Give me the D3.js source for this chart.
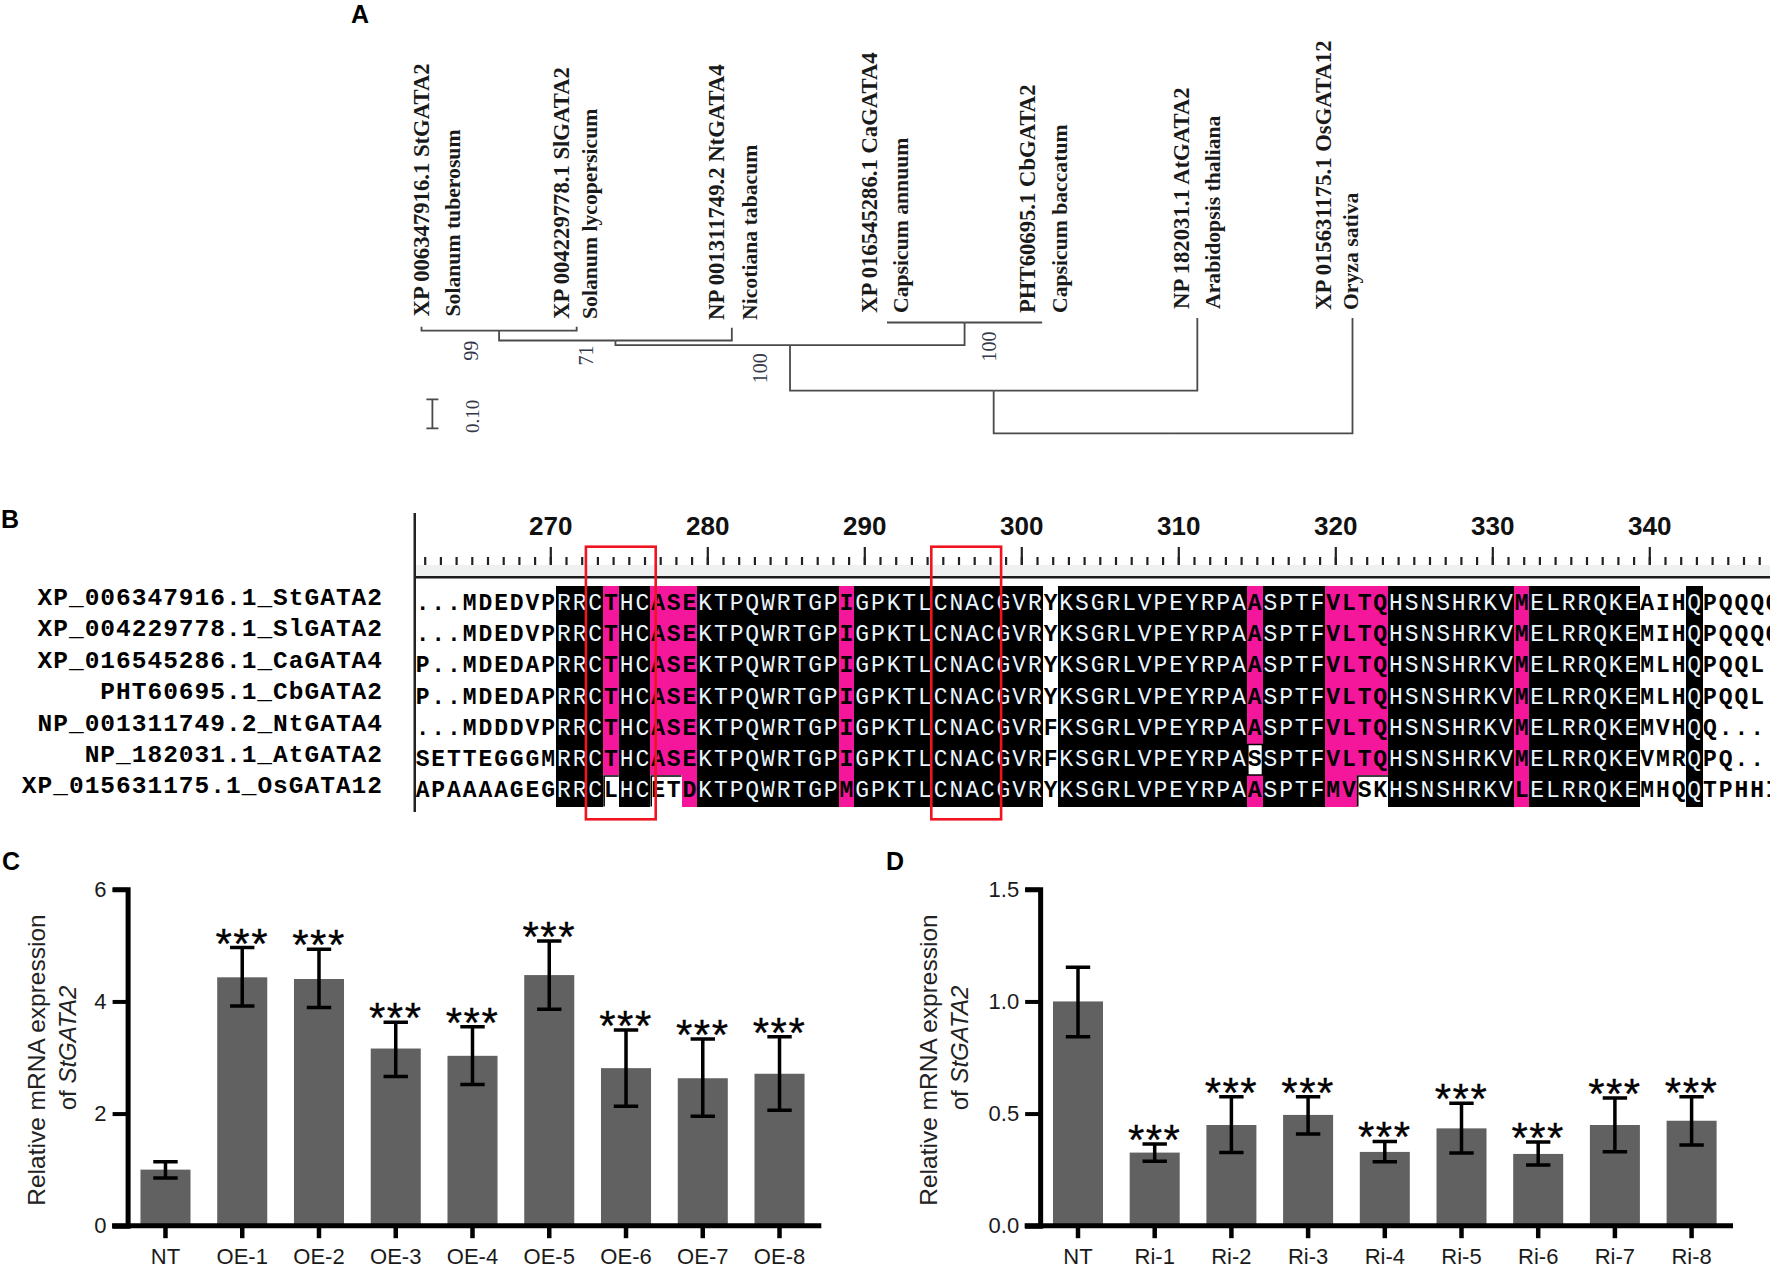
<!DOCTYPE html>
<html lang="en">
<head>
    <meta charset="UTF-8">
    <title>StGATA2</title>
    <style>
        body { margin: 0; background: #fff; }
        svg { display: block; }
    </style>
</head>

<body>
    <div id="graph"></div>
    <script src="https://d3js.org/d3.v7.min.js"></script>

    <script>
        // Panel A: tree
        const treeIds = ["root", "n1", "n2", "n3", "n4", "n5",
            "St", "Sl", "Nt", "Ca", "Cb", "At", "Os"];
        const treeParents = [null, "root", "n1", "n2", "n3", "n2",
            "n4", "n4", "n3", "n5", "n5", "n1", "root"];
        const treeLengths = [0, 0.147, 0.157, 0.016, 0.034, 0.078,
            0.013, 0.013, 0.044, 0, 0, 0.251, 0.398];
        const leafNames = ["XP 006347916.1 StGATA2", "XP 004229778.1 SlGATA2", "NP 001311749.2 NtGATA4",
            "XP 016545286.1 CaGATA4", "PHT60695.1 CbGATA2", "NP 182031.1 AtGATA2", "XP 015631175.1 OsGATA12"];
        const leafSpecies = ["Solanum tuberosum", "Solanum lycopersicum", "Nicotiana tabacum",
            "Capsicum annuum", "Capsicum baccatum", "Arabidopsis thaliana", "Oryza sativa"];
        const bootstrapNodes = ["n4", "n3", "n2", "n5"];
        const bootstrapValues = ["99", "71", "100", "100"];
        const scaleBarValue = 0.10;

        // Panel B: alignment
        const seqNames = ["XP_006347916.1_StGATA2", "XP_004229778.1_SlGATA2", "XP_016545286.1_CaGATA4",
            "PHT60695.1_CbGATA2", "NP_001311749.2_NtGATA4", "NP_182031.1_AtGATA2", "XP_015631175.1_OsGATA12"];
        const seqs = [
            "...MDEDVPRRCTHCASEKTPQWRTGPIGPKTLCNACGVRYKSGRLVPEYRPAASPTFVLTQHSNSHRKVMELRRQKEAIHQPQQQQ",
            "...MDEDVPRRCTHCASEKTPQWRTGPIGPKTLCNACGVRYKSGRLVPEYRPAASPTFVLTQHSNSHRKVMELRRQKEMIHQPQQQQ",
            "P..MDEDAPRRCTHCASEKTPQWRTGPIGPKTLCNACGVRYKSGRLVPEYRPAASPTFVLTQHSNSHRKVMELRRQKEMLHQPQQL",
            "P..MDEDAPRRCTHCASEKTPQWRTGPIGPKTLCNACGVRYKSGRLVPEYRPAASPTFVLTQHSNSHRKVMELRRQKEMLHQPQQL",
            "...MDDDVPRRCTHCASEKTPQWRTGPIGPKTLCNACGVRFKSGRLVPEYRPAASPTFVLTQHSNSHRKVMELRRQKEMVHQQ...",
            "SETTEGGGMRRCTHCASEKTPQWRTGPIGPKTLCNACGVRFKSGRLVPEYRPASSPTFVLTQHSNSHRKVMELRRQKEVMRQPQ..",
            "APAAAAGEGRRCLHCETDKTPQWRTGPMGPKTLCNACGVRYKSGRLVPEYRPAASPTFMVSKHSNSHRKVLELRRQKEMHQQTPHHI"
        ];
        const firstCol = 262;
        const lastTick = 347;
        const rulerLabels = [270, 280, 290, 300, 310, 320, 330, 340];
        const blackCols = [[271, 301], [303, 339], [343, 343]];
        const pinkCols = [274, 277, 278, 279, 289, 315, 320, 321, 322, 323, 332];
        const whiteRuns = [[5, 315, 315], [6, 274, 274], [6, 277, 278], [6, 322, 323]]; // fila, desde, hasta
        const redBoxes = [[273, 276], [295, 298]];

        // Panel C
        const cCategories = ["NT", "OE-1", "OE-2", "OE-3", "OE-4", "OE-5", "OE-6", "OE-7", "OE-8"];
        const cValues = [1.0, 4.43, 4.40, 3.16, 3.03, 4.47, 2.81, 2.63, 2.71];
        const cErrHigh = [1.14, 4.96, 4.93, 3.63, 3.55, 5.08, 3.49, 3.33, 3.37];
        const cErrLow = [0.85, 3.92, 3.89, 2.66, 2.52, 3.86, 2.13, 1.95, 2.06];
        const cStars = ["", "***", "***", "***", "***", "***", "***", "***", "***"];
        const cTicks = [0, 2, 4, 6];

        // Panel D
        const dCategories = ["NT", "Ri-1", "Ri-2", "Ri-3", "Ri-4", "Ri-5", "Ri-6", "Ri-7", "Ri-8"];
        const dValues = [1.0, 0.326, 0.449, 0.494, 0.329, 0.434, 0.32, 0.449, 0.468];
        const dErrHigh = [1.152, 0.364, 0.575, 0.575, 0.376, 0.546, 0.373, 0.569, 0.575];
        const dErrLow = [0.843, 0.287, 0.326, 0.409, 0.285, 0.324, 0.271, 0.33, 0.36];
        const dStars = ["", "***", "***", "***", "***", "***", "***", "***", "***"];
        const dTicks = [0, 0.5, 1, 1.5];

        const SANS = "'Liberation Sans', Arial, sans-serif";
        const SERIF = "'Liberation Serif', serif";
        const MONO = "'Liberation Mono', monospace";
        const BAR = "#616161";
        const PINK = "#f5179b";

        const svg = d3.select("#graph")
            .append("svg")
            .attr("width", 1770)
            .attr("height", 1268)
            .attr("viewBox", "0 0 1770 1268");

        svg.append("rect").attr("width", 1770).attr("height", 1268).attr("fill", "#fff");

        // letras de los paneles
        const panelLetters = [["A", 351, 23], ["B", 1, 528], ["C", 2, 870], ["D", 886, 870]];
        svg.selectAll("text.panel")
            .data(panelLetters)
            .enter()
            .append("text")
            .attr("class", "panel")
            .attr("x", d => d[1])
            .attr("y", d => d[2])
            .attr("font-family", SANS)
            .attr("font-weight", "bold")
            .attr("font-size", 25)
            .text(d => d[0]);

        // ---- A: arbol ----
        const treeTable = treeIds.map((id, i) => ({ id, parent: treeParents[i], len: treeLengths[i] }));
        const root = d3.stratify().id(d => d.id).parentId(d => d.parent)(treeTable);
        d3.cluster().nodeSize([1, 1]).separation(() => 1)(root);
        root.eachBefore(n => { n.depthLen = n.parent ? n.parent.depthLen + n.data.len : 0; });

        const treeX = d3.scaleLinear().domain(d3.extent(root.leaves(), n => n.x)).range([421.5, 1352.5]);
        const treeY = d3.scaleLinear().domain([0, 1]).range([433.3, 143.3]);

        const treeG = svg.append("g");
        treeG.selectAll("path")
            .data(root.links())
            .enter()
            .append("path")
            .attr("fill", "none")
            .attr("stroke", "#4a4a4a")
            .attr("stroke-width", 1.8)
            .attr("d", l => {
                const px = treeX(l.source.x), py = treeY(l.source.depthLen);
                const cx = treeX(l.target.x), cy = treeY(l.target.depthLen);
                return `M${px},${py}H${cx}V${cy}`;
            });

        // las etiquetas no van alineadas con las hojas en el original
        const idBaseX = [429, 569, 724, 877, 1035, 1189, 1331];
        const spBaseX = [460, 597, 757, 908, 1067, 1220, 1358];
        const idStartY = [316.5, 319, 320, 313, 313, 309, 310];

        function vText(g, x, y, str, size, weight, fill) {
            return g.append("text")
                .attr("transform", `translate(${x},${y}) rotate(-90)`)
                .attr("font-family", SERIF)
                .attr("font-size", size)
                .attr("font-weight", weight)
                .attr("fill", fill)
                .text(str);
        }

        leafNames.forEach((name, i) => {
            vText(treeG, idBaseX[i], idStartY[i], name, 22.7, "bold", "#1a1a1a");
            vText(treeG, spBaseX[i], idStartY[i], leafSpecies[i], 21.7, "bold", "#1a1a1a");
        });

        const bootDx = { n4: -21.5, n3: -22, n2: -23, n5: 31.5 };
        const bootDy = { n4: 30, n3: 25, n2: 38, n5: 39 };
        bootstrapNodes.forEach((id, i) => {
            const n = root.find(d => d.id === id);
            vText(treeG, treeX(n.x) + bootDx[id], treeY(n.depthLen) + bootDy[id], bootstrapValues[i], 20, "normal", "#33384a");
        });

        // barra de escala
        const scaleX = 432.4, scaleBottom = 428.3;
        const scaleTop = scaleBottom - (treeY(0) - treeY(scaleBarValue));
        treeG.append("path")
            .attr("fill", "none")
            .attr("stroke", "#4a4a4a")
            .attr("stroke-width", 1.8)
            .attr("d", `M${scaleX - 6},${scaleTop}H${scaleX + 6}M${scaleX},${scaleTop}V${scaleBottom}M${scaleX - 6},${scaleBottom}H${scaleX + 6}`);
        vText(treeG, 479, 433, scaleBarValue.toFixed(2), 19, "normal", "#33384a");

        // ---- B: alineamiento ----
        const cellW = 15.7;
        const cellX = d3.scaleLinear().domain([firstCol, firstCol + 1]).range([414.7, 414.7 + cellW]);
        const rowY = d3.scaleBand().domain(d3.range(seqs.length)).range([586, 806.5]);
        const rulerX = d3.scaleLinear().domain([270, 340]).range([550.3, 1649.3]);
        const alignG = svg.append("g");

        function isWhite(row, col) {
            return whiteRuns.some(r => r[0] === row && col >= r[1] && col <= r[2]);
        }
        function cellFill(row, col) {
            if (isWhite(row, col)) return "#fff";
            if (pinkCols.includes(col)) return PINK;
            if (blackCols.some(r => col >= r[0] && col <= r[1])) return "#000";
            return null;
        }

        // regla
        alignG.append("rect")
            .attr("x", 414).attr("y", 565).attr("width", 1356).attr("height", 11)
            .attr("fill", "#eef1ef");
        alignG.append("rect")
            .attr("x", 414).attr("y", 576).attr("width", 1356).attr("height", 2.5)
            .attr("fill", "#1c1c1c");
        alignG.append("rect")
            .attr("x", 413.5).attr("y", 513).attr("width", 2.5).attr("height", 299)
            .attr("fill", "#222");

        const shortAxis = d3.axisTop(rulerX)
            .tickValues(d3.range(firstCol, lastTick + 1))
            .tickSize(8)
            .tickFormat("");
        const longAxis = d3.axisTop(rulerX)
            .tickValues(rulerLabels)
            .tickSize(18)
            .tickPadding(12)
            .tickFormat(d3.format("d"));
        [shortAxis, longAxis].forEach(ax => {
            const g = alignG.append("g").attr("transform", "translate(0,565)").call(ax);
            g.select(".domain").remove();
            g.selectAll("line").attr("stroke", "#222").attr("stroke-width", 2.2);
            g.selectAll("text")
                .attr("font-family", SANS)
                .attr("font-weight", "bold")
                .attr("font-size", 26)
                .attr("fill", "#111");
        });

        // celdas
        const cells = [];
        seqs.forEach((s, row) => {
            s.split("").forEach((ch, k) => {
                cells.push({ row, col: firstCol + k, ch, fill: cellFill(row, firstCol + k) });
            });
        });
        alignG.append("g")
            .selectAll("rect")
            .data(cells.filter(d => d.fill))
            .enter()
            .append("rect")
            .attr("shape-rendering", "crispEdges")
            .attr("x", d => cellX(d.col))
            .attr("y", d => rowY(d.row))
            .attr("width", cellW + 0.4)
            .attr("height", rowY.bandwidth() + 0.4)
            .attr("fill", d => d.fill);

        // borde de las celdas blancas: caja completa solo en la S, en el resto arriba e izquierda
        alignG.append("g")
            .selectAll("path")
            .data(whiteRuns)
            .enter()
            .append("path")
            .attr("fill", "none")
            .attr("stroke", "#000")
            .attr("stroke-width", 1.6)
            .attr("d", d => {
                const x = cellX(d[1]) + 1, y = rowY(d[0]) + 1;
                const w = (d[2] - d[1] + 1) * cellW - 1, h = rowY.bandwidth() - 1;
                return d[0] === 5
                    ? `M${x},${y}h${w}v${h}h${-w}Z`
                    : `M${x},${y + h}V${y}h${w}`;
            });

        alignG.append("g")
            .selectAll("text")
            .data(cells)
            .enter()
            .append("text")
            .attr("x", d => cellX(d.col) + cellW / 2)
            .attr("y", d => 610 + d.row * 31.2)
            .attr("text-anchor", "middle")
            .attr("font-family", MONO)
            .attr("font-size", 23)
            .attr("font-weight", d => d.fill === "#000" ? "normal" : "bold")
            .attr("fill", d => d.fill === "#000" ? "#eaf6ff" : "#000")
            .text(d => d.ch);

        alignG.append("g")
            .selectAll("text")
            .data(seqNames)
            .enter()
            .append("text")
            .attr("x", 383)
            .attr("y", (d, i) => 605 + i * 31.4)
            .attr("text-anchor", "end")
            .attr("font-family", MONO)
            .attr("font-size", 24.5)
            .attr("font-weight", "bold")
            .attr("letter-spacing", 1)
            .text(d => d);

        alignG.append("g")
            .selectAll("rect")
            .data(redBoxes)
            .enter()
            .append("rect")
            .attr("x", d => cellX(d[0]) - 1.5)
            .attr("y", 546.7)
            .attr("width", d => cellX(d[1] + 1) - cellX(d[0]) + 7)
            .attr("height", 272.6)
            .attr("fill", "none")
            .attr("stroke", "#f0141e")
            .attr("stroke-width", 2.6);

        // ---- C y D: barras ----
        function barPanel(opts) {
            const { categories, values, errHigh, errLow, stars, ticks, domainMax, fmt, x0, x1, axisEnd, label1, label2 } = opts;
            const top = 889.3, bottom = 1225.7;

            const xScale = d3.scaleBand()
                .domain(categories)
                .range([x0, x1])
                .paddingInner(0.348)
                .paddingOuter(0.174);
            const yScale = d3.scaleLinear().domain([0, domainMax]).range([bottom, top]);
            const g = svg.append("g");

            g.selectAll("rect.bar")
                .data(categories)
                .enter()
                .append("rect")
                .attr("class", "bar")
                .attr("x", d => xScale(d))
                .attr("width", xScale.bandwidth())
                .attr("y", (d, i) => yScale(values[i]))
                .attr("height", (d, i) => bottom - yScale(values[i]))
                .attr("fill", BAR);

            // barras de error
            const capW = 12.2;
            g.selectAll("path.err")
                .data(categories)
                .enter()
                .append("path")
                .attr("class", "err")
                .attr("fill", "none")
                .attr("stroke", "#000")
                .attr("stroke-width", 3.5)
                .attr("d", (d, i) => {
                    const cx = xScale(d) + xScale.bandwidth() / 2;
                    const hi = yScale(errHigh[i]), lo = yScale(errLow[i]);
                    return `M${cx - capW},${hi}H${cx + capW}M${cx},${hi}V${lo}M${cx - capW},${lo}H${cx + capW}`;
                });

            g.selectAll("text.star")
                .data(categories)
                .enter()
                .append("text")
                .attr("class", "star")
                .attr("x", d => xScale(d) + xScale.bandwidth() / 2)
                .attr("y", (d, i) => yScale(errHigh[i]) + 10)
                .attr("text-anchor", "middle")
                .attr("font-family", SANS)
                .attr("font-size", 42)
                .attr("letter-spacing", 1.5)
                .attr("stroke", "#000")
                .attr("stroke-width", 0.3)
                .text((d, i) => stars[i]);

            // ejes
            const yAxis = g.append("g")
                .attr("transform", `translate(${x0 + 0.5},0)`)
                .call(d3.axisLeft(yScale).tickValues(ticks).tickSize(15).tickPadding(6).tickFormat(fmt));
            yAxis.select(".domain").attr("stroke", "#000").attr("stroke-width", 5);
            yAxis.selectAll("line").attr("stroke", "#000").attr("stroke-width", 4);

            const xAxis = g.append("g")
                .attr("transform", `translate(0,${bottom})`)
                .call(d3.axisBottom(xScale).tickSize(12.5).tickPadding(10).tickSizeOuter(0));
            xAxis.select(".domain")
                .attr("d", `M${x0 - 15},0H${axisEnd}`)
                .attr("stroke", "#000")
                .attr("stroke-width", 5);
            xAxis.selectAll("line").attr("stroke", "#000").attr("stroke-width", 4.5);

            g.selectAll(".tick text")
                .attr("font-family", SANS)
                .attr("font-size", 22)
                .attr("fill", "#1a1a1a");

            g.append("text")
                .attr("transform", `translate(${label1},1060) rotate(-90)`)
                .attr("text-anchor", "middle")
                .attr("font-family", SANS)
                .attr("font-size", 24.5)
                .attr("fill", "#222")
                .text("Relative mRNA expression");
            const l2 = g.append("text")
                .attr("transform", `translate(${label2},1048) rotate(-90)`)
                .attr("text-anchor", "middle")
                .attr("font-family", SANS)
                .attr("font-size", 24)
                .attr("fill", "#222");
            l2.append("tspan").text("of ");
            l2.append("tspan").attr("font-style", "italic").text("StGATA2");
        }

        barPanel({
            categories: cCategories, values: cValues, errHigh: cErrHigh, errLow: cErrLow, stars: cStars,
            ticks: cTicks, domainMax: 6, fmt: d3.format("d"),
            x0: 127.1, x1: 817.9, axisEnd: 821.3, label1: 45, label2: 76
        });

        barPanel({
            categories: dCategories, values: dValues, errHigh: dErrHigh, errLow: dErrLow, stars: dStars,
            ticks: dTicks, domainMax: 1.5, fmt: d3.format(".1f"),
            x0: 1039.65, x1: 1729.95, axisEnd: 1733, label1: 937, label2: 968
        });
    </script>

</body>

</html>
